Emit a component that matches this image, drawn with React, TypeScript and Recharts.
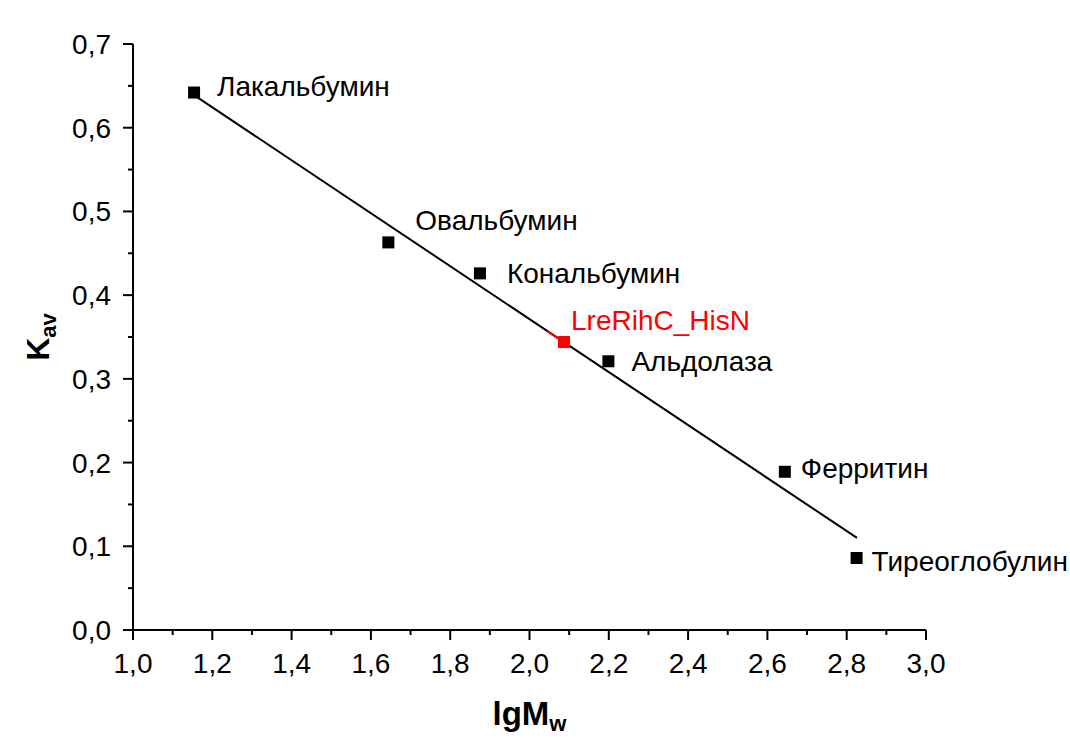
import * as React from "react";
import { ScatterChart, Scatter, XAxis, YAxis } from "recharts";

// calibration proteins (lgMw vs Kav)
const proteins = ["Лакальбумин", "Овальбумин", "Кональбумин", "Альдолаза", "Ферритин", "Тиреоглобулин"];
const lgMw = [1.154, 1.644, 1.875, 2.199, 2.644, 2.825];
const kav = [0.642, 0.463, 0.426, 0.321, 0.189, 0.086];

// studied protein
const sampleNames = ["LreRihC_HisN"];
const sampleLgMw = [2.087];
const sampleKav = [0.344];

// linear fit end points
const fitLgMw = [1.154, 2.826];
const fitKav = [0.639, 0.11];

// short red piece of the fit next to the sample point
const sampleTraceLgMw = [2.044, 2.087];
const sampleTraceKav = [0.357, 0.344];

const xTicks = [1.0, 1.1, 1.2, 1.3, 1.4, 1.5, 1.6, 1.7, 1.8, 1.9, 2.0, 2.1, 2.2, 2.3, 2.4, 2.5, 2.6, 2.7, 2.8, 2.9, 3.0];
const yTicks = [0.0, 0.05, 0.1, 0.15, 0.2, 0.25, 0.3, 0.35, 0.4, 0.45, 0.5, 0.55, 0.6, 0.65, 0.7];

// label placement relative to the marker centre: [dx to text start, dy to text middle]
const labelOffset: Record<string, [number, number]> = {
  "Лакальбумин": [23, -7],
  "Овальбумин": [27, -22],
  "Кональбумин": [27, 0],
  "Альдолаза": [23, 0],
  "Ферритин": [16, -4],
  "Тиреоглобулин": [15, 3],
  "LreRihC_HisN": [7, -22],
};

const FONT = "'Liberation Sans', Arial, sans-serif";

const calibration = proteins.map((name, i) => ({ name, x: lgMw[i], y: kav[i] }));
const sample = sampleNames.map((name, i) => ({ name, x: sampleLgMw[i], y: sampleKav[i] }));
const fit = fitLgMw.map((x, i) => ({ x, y: fitKav[i] }));
const sampleTrace = sampleTraceLgMw.map((x, i) => ({ x, y: sampleTraceKav[i] }));

const fmt = (v: number) => v.toFixed(1).replace(".", ",");

const makeMarker = (color: string) => (props: any) => {
  const { cx, cy, payload } = props;
  const [dx, dy] = labelOffset[payload.name] ?? [20, 0];
  return (
    <g>
      <rect x={cx - 6} y={cy - 6} width={12} height={12} fill={color} />
      <text x={cx + dx} y={cy + dy + 10} fill={color} fontSize={28} fontFamily={FONT}>
        {payload.name}
      </text>
    </g>
  );
};

const XTick = (props: any) => {
  const { x, y, payload } = props;
  const major = Math.round(payload.value * 10) % 2 === 0;
  return (
    <g>
      <line x1={x} x2={x} y1={y} y2={y + (major ? 10 : 5)} stroke="#000" strokeWidth={2} />
      {major && (
        <text x={x} y={y + 43} textAnchor="middle" fontSize={28} fontFamily={FONT} fill="#000">
          {fmt(payload.value)}
        </text>
      )}
    </g>
  );
};

const YTick = (props: any) => {
  const { x, y, payload } = props;
  const major = Math.round(payload.value * 100) % 10 === 0;
  return (
    <g>
      <line x1={x} x2={x - (major ? 10 : 5)} y1={y} y2={y} stroke="#000" strokeWidth={2} />
      {major && (
        <text x={x - 22} y={y + 10} textAnchor="end" fontSize={28} fontFamily={FONT} fill="#000">
          {fmt(payload.value)}
        </text>
      )}
    </g>
  );
};

const XTitle = (props: any) => {
  const { viewBox } = props;
  const cx = viewBox.x + viewBox.width / 2;
  return (
    <text x={cx} y={viewBox.y + 95} textAnchor="middle" fontSize={33} fontWeight="bold" fontFamily={FONT} fill="#000">
      lgM
      <tspan fontSize={22} dy={6}>w</tspan>
    </text>
  );
};

const YTitle = (props: any) => {
  const { viewBox } = props;
  const cy = viewBox.y + viewBox.height / 2;
  const bx = 49;
  return (
    <text
      x={bx}
      y={cy}
      transform={`rotate(-90 ${bx} ${cy})`}
      textAnchor="middle"
      fontSize={32}
      fontWeight="bold"
      fontFamily={FONT}
      fill="#000"
    >
      K
      <tspan fontSize={22} dy={7}>av</tspan>
    </text>
  );
};

export default function App() {
  return (
    <div style={{ background: "#fff", width: 1070, height: 738 }}>
      <style>{"body{margin:0}"}</style>
      <ScatterChart width={1070} height={738} margin={{ top: 44, right: 144, bottom: 48, left: 53 }}>
        <XAxis
          type="number"
          dataKey="x"
          domain={[1, 3]}
          ticks={xTicks}
          interval={0}
          tickSize={0}
          tickMargin={0}
          tickLine={false}
          tick={<XTick />}
          axisLine={{ stroke: "#000", strokeWidth: 2 }}
          height={60}
          label={<XTitle />}
        />
        <YAxis
          type="number"
          dataKey="y"
          domain={[0, 0.7]}
          ticks={yTicks}
          interval={0}
          tickSize={0}
          tickMargin={0}
          tickLine={false}
          tick={<YTick />}
          axisLine={{ stroke: "#000", strokeWidth: 2 }}
          width={80}
          label={<YTitle />}
        />
        <Scatter data={fit} line={{ stroke: "#000", strokeWidth: 2 }} shape={() => <g />} isAnimationActive={false} />
        <Scatter data={sampleTrace} line={{ stroke: "#ff0000", strokeWidth: 2 }} shape={() => <g />} isAnimationActive={false} />
        <Scatter data={calibration} shape={makeMarker("#000")} isAnimationActive={false} />
        <Scatter data={sample} shape={makeMarker("#ff0000")} isAnimationActive={false} />
      </ScatterChart>
    </div>
  );
}
